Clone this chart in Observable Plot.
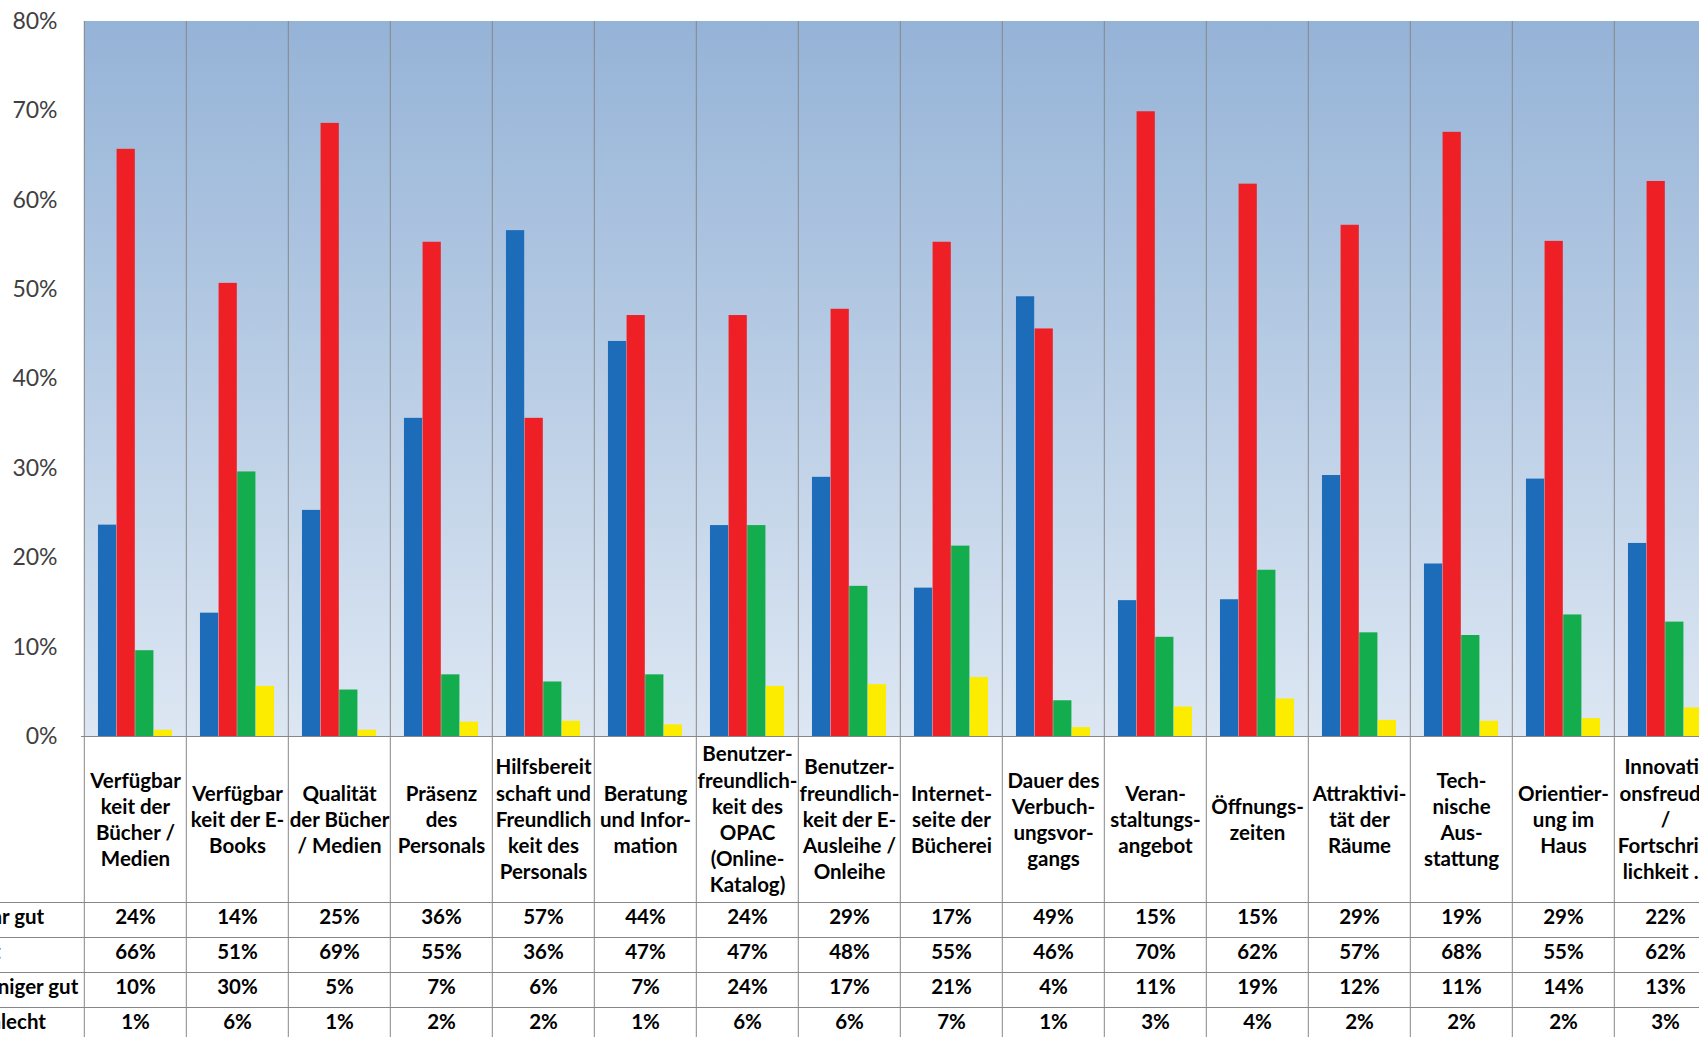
<!DOCTYPE html>
<html>
<head>
<meta charset="utf-8">
<script src="https://cdn.jsdelivr.net/npm/d3@7"></script>
<script src="https://cdn.jsdelivr.net/npm/@observablehq/plot@0.6"></script>
<style>
  html, body { margin: 0; padding: 0; background: #ffffff; overflow: hidden; }
  #chart svg { display: block; }
</style>
</head>
<body>
<div id="chart"></div>
<script>
// ---- data ----
const categories = [
  "Verfügbar\nkeit der\nBücher /\nMedien",
  "Verfügbar\nkeit der E-\nBooks",
  "Qualität\nder Bücher\n/ Medien",
  "Präsenz\ndes\nPersonals",
  "Hilfsbereit\nschaft und\nFreundlich\nkeit des\nPersonals",
  "Beratung\nund Infor-\nmation",
  "Benutzer-\nfreundlich-\nkeit des\nOPAC\n(Online-\nKatalog)",
  "Benutzer-\nfreundlich-\nkeit der E-\nAusleihe /\nOnleihe",
  "Internet-\nseite der\nBücherei",
  "Dauer des\nVerbuch-\nungsvor-\ngangs",
  "Veran-\nstaltungs-\nangebot",
  "Öffnungs-\nzeiten",
  "Attraktivi-\ntät der\nRäume",
  "Tech-\nnische\nAus-\nstattung",
  "Orientier-\nung im\nHaus",
  "Innovati-\nonsfreude\n/\nFortschritt\nlichkeit ..."
];
const seriesNames = ["sehr gut", "gut", "weniger gut", "schlecht"];
const sehrGut    = [23.65, 13.8, 25.3, 35.6, 56.6, 44.2, 23.6, 29.0, 16.6, 49.2, 15.2, 15.3, 29.2, 19.3, 28.8, 21.6];
const gut        = [65.7, 50.7, 68.6, 55.3, 35.6, 47.1, 47.1, 47.8, 55.3, 45.6, 69.9, 61.8, 57.2, 67.6, 55.4, 62.1];
const wenigerGut = [9.6, 29.6, 5.2, 6.9, 6.1, 6.9, 23.6, 16.8, 21.3, 4.0, 11.1, 18.6, 11.6, 11.3, 13.6, 12.8];
const schlecht   = [0.7, 5.6, 0.7, 1.6, 1.7, 1.3, 5.6, 5.8, 6.6, 1.0, 3.3, 4.2, 1.8, 1.7, 2.0, 3.2];
const yTicks = [0, 10, 20, 30, 40, 50, 60, 70, 80];
const seriesColors = ["#1c6cb9", "#ee1f25", "#14ad4d", "#fbec00"];

// ---- layout ----
const W = 1699, H = 1037;
const mLeft = 81, mTop = 21, mBottom = 301;
const zeroY = H - mBottom;
const colW = 102.4;
const xEnd = mLeft + categories.length * colW;
const labelMid = 82;          // centre of category label block below 0%
const rowLineOffsets = [166, 201, 236, 271];
const rowMidOffset = 187.5, rowStep = 35;
const gridColor = "#878787";
const textSize = 20.5;

const seriesValues = [sehrGut, gut, wenigerGut, schlecht];
const rows = seriesValues.map((vals, i) =>
  categories.map((c, j) => ({cat: c, series: seriesNames[i], value: vals[j]})));

const marks = [];
// gradient plot background per column
marks.push(Plot.barY(categories, {x: d => d, y1: 0, y2: 80, fill: "url(#bggrad)"}));
// bars (clustered: 4 bars per category, Excel gap 150%)
rows.forEach((data, i) => {
  marks.push(Plot.barY(data, {
    x: "cat", y: "value", fill: seriesColors[i],
    insetLeft: colW * (0.75 + i) / 5.5,
    insetRight: colW * (3.75 - i) / 5.5
  }));
});
// vertical divider lines (plot + table)
marks.push(Plot.ruleX(categories, {x: d => d, dx: -colW / 2, stroke: gridColor, insetBottom: -(H - zeroY)}));
// 0% baseline
marks.push(Plot.ruleY([0], {stroke: gridColor}));
// table horizontal lines
rowLineOffsets.forEach(off => {
  marks.push(Plot.ruleY([0], {dy: off, insetLeft: -mLeft, stroke: gridColor}));
});
// category labels
marks.push(Plot.text(categories, {
  x: d => d, text: d => d, frameAnchor: "bottom", dy: labelMid,
  lineAnchor: "middle", lineHeight: 26.2 / textSize, fontSize: textSize, fontWeight: "bold", fill: "#000"
}));
// table values + row labels
rows.forEach((data, i) => {
  marks.push(Plot.text(data, {
    x: "cat", text: d => Math.round(d.value) + "%", frameAnchor: "bottom",
    dy: rowMidOffset + rowStep * i, fontSize: textSize, fontWeight: "bold", fill: "#000"
  }));
  marks.push(Plot.text([seriesNames[i]], {
    text: d => d, frameAnchor: "bottom-left", textAnchor: "start",
    dx: -mLeft - 30, dy: rowMidOffset + rowStep * i, fontSize: textSize, fontWeight: "bold", fill: "#000"
  }));
});
// y axis
marks.push(Plot.axisY({
  ticks: yTicks, tickSize: 0, tickPadding: 24, tickFormat: d => d + "%",
  fontSize: 23, fill: "#404040", label: null
}));

const chart = Plot.plot({
  width: W, height: H,
  marginLeft: mLeft, marginRight: 0, marginTop: mTop, marginBottom: mBottom,
  style: {fontFamily: "Lato, 'Open Sans', sans-serif", background: "#ffffff", overflow: "hidden", color: "#000"},
  x: {domain: categories, range: [mLeft, xEnd], padding: 0, axis: null},
  y: {domain: [0, 80]},
  marks
});

const defs = d3.select(chart).insert("defs", ":first-child");
const grad = defs.append("linearGradient").attr("id", "bggrad")
  .attr("x1", 0).attr("y1", 0).attr("x2", 0).attr("y2", 1);
grad.append("stop").attr("offset", "0%").attr("stop-color", "#95b3d7");
grad.append("stop").attr("offset", "100%").attr("stop-color", "#dde7f3");

document.getElementById("chart").appendChild(chart);
</script>
</body>
</html>
